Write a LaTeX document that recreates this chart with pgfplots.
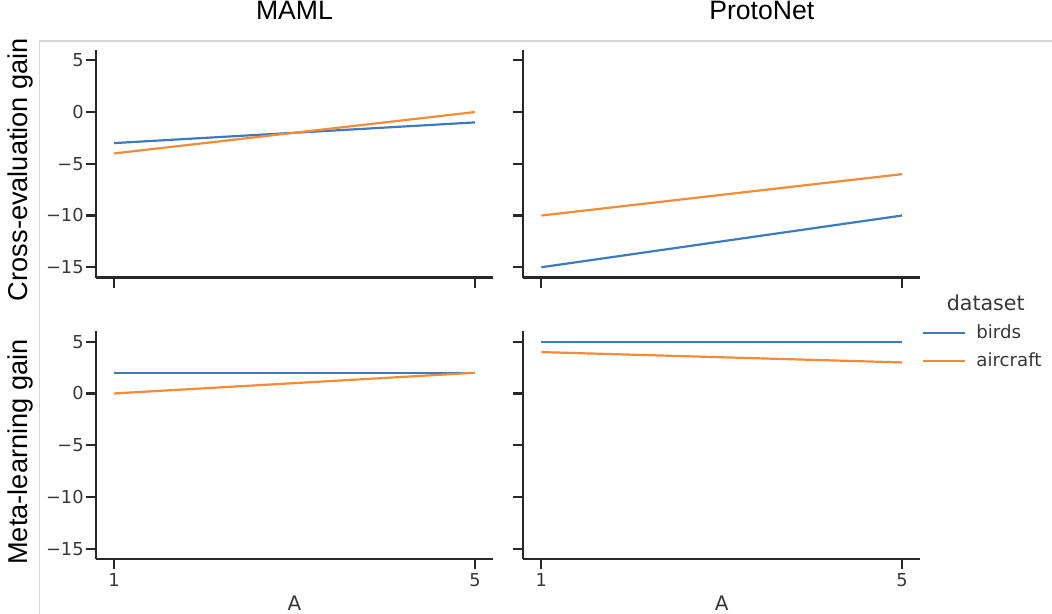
\documentclass[border=0pt]{standalone}
\usepackage{pgfplots}
\pgfplotsset{compat=1.18}
\usepackage{fontspec}
\setmainfont{DejaVu Sans}
\newfontfamily\arial{Liberation Sans}

\definecolor{cblue}{RGB}{62,123,190}
\definecolor{corange}{RGB}{245,138,55}
\definecolor{axcol}{RGB}{40,40,40}
\definecolor{lblcol}{RGB}{55,55,55}
\definecolor{framecol}{RGB}{215,215,215}

\pgfplotsset{
  facet/.style={
    scale only axis,
    xmin=0.8, xmax=5.2, ymin=-16, ymax=6,
    axis x line=bottom, axis y line=left,
    axis line style={-, line width=1.1pt, color=axcol},
    xtick={1,5}, ytick={-15,-10,-5,0,5},
    tick align=outside, major tick length=5pt,
    tick style={line width=1.1pt, color=axcol},
    ticklabel style={font=\fontsize{8.9}{10}\selectfont, text=lblcol},
    yticklabel style={inner sep=1pt},
    xticklabel style={inner sep=2pt},
    title style={anchor=center, font=\arial\fontsize{13.3}{15}\selectfont},
    ylabel style={anchor=center, font=\arial\fontsize{13.6}{15}\selectfont},
    xlabel style={anchor=center, font=\fontsize{10}{12}\selectfont, text=lblcol},
    every axis plot/.append style={line width=1.1pt, no marks},
    clip=false,
  },
  leftcol/.style={width=198.5pt, yticklabels={−15,−10,−5,0,5}},
  rightcol/.style={width=198.4pt, yticklabels={}},
  toprow/.style={height=113.8pt, xticklabels={}},
  botrow/.style={height=113.8pt, xticklabels={1,5},
    xlabel={A}, xlabel style={at={(axis description cs:0.5,-0.193)}}},
}

\begin{document}
\begin{tikzpicture}
\useasboundingbox (0,0) rectangle (526pt,307pt);
\draw[framecol, line width=0.75pt] (19.7pt,0pt) -- (19.7pt,286.5pt) -- (526pt,286.5pt);

% top left: MAML, cross-evaluation
\begin{axis}[facet, leftcol, toprow, at={(48pt,168.2pt)}, anchor=south west,
  title={MAML}, title style={at={(axis description cs:0.5,1.123)}},
  ylabel={Cross-evaluation gain}, ylabel style={at={(axis description cs:-0.191,0.475)}}]
\addplot[cblue] coordinates {(1,-3) (5,-1)};
\addplot[corange] coordinates {(1,-4) (5,0)};
\end{axis}

% top right: ProtoNet, cross-evaluation
\begin{axis}[facet, rightcol, toprow, at={(261.65pt,168.2pt)}, anchor=south west,
  title={ProtoNet}, title style={at={(axis description cs:0.601,1.123)}}]
\addplot[cblue] coordinates {(1,-15) (5,-10)};
\addplot[corange] coordinates {(1,-10) (5,-6)};
\end{axis}

% bottom left: MAML, meta-learning
\begin{axis}[facet, leftcol, botrow, at={(48pt,27.5pt)}, anchor=south west,
  ylabel={Meta-learning gain}, ylabel style={at={(axis description cs:-0.191,0.47)}}]
\addplot[cblue] coordinates {(1,2) (5,2)};
\addplot[corange] coordinates {(1,0) (5,2)};
\end{axis}

% bottom right: ProtoNet, meta-learning (carries the legend)
\begin{axis}[facet, rightcol, botrow, at={(261.65pt,27.5pt)}, anchor=south west,
  legend style={at={(axis description cs:0.989,1.061)}, anchor=north west,
    draw=none, fill=none, font=\fontsize{9.1}{10}\selectfont, text=lblcol,
    row sep=2.35pt, nodes={inner sep=1.5pt},
    /tikz/every odd column/.append style={column sep=3.5pt}},
  legend cell align=left,
  legend image code/.code={\draw[#1] (0pt,0pt) -- (21pt,0pt);}]
\addplot[cblue] coordinates {(1,5) (5,5)};
\addlegendentry{birds}
\addplot[corange] coordinates {(1,4) (5,3)};
\addlegendentry{aircraft}
\node[font=\fontsize{10.3}{12}\selectfont, text=lblcol, anchor=center]
  at (axis description cs:1.1655,1.1235) {dataset};
\end{axis}
\end{tikzpicture}
\end{document}
